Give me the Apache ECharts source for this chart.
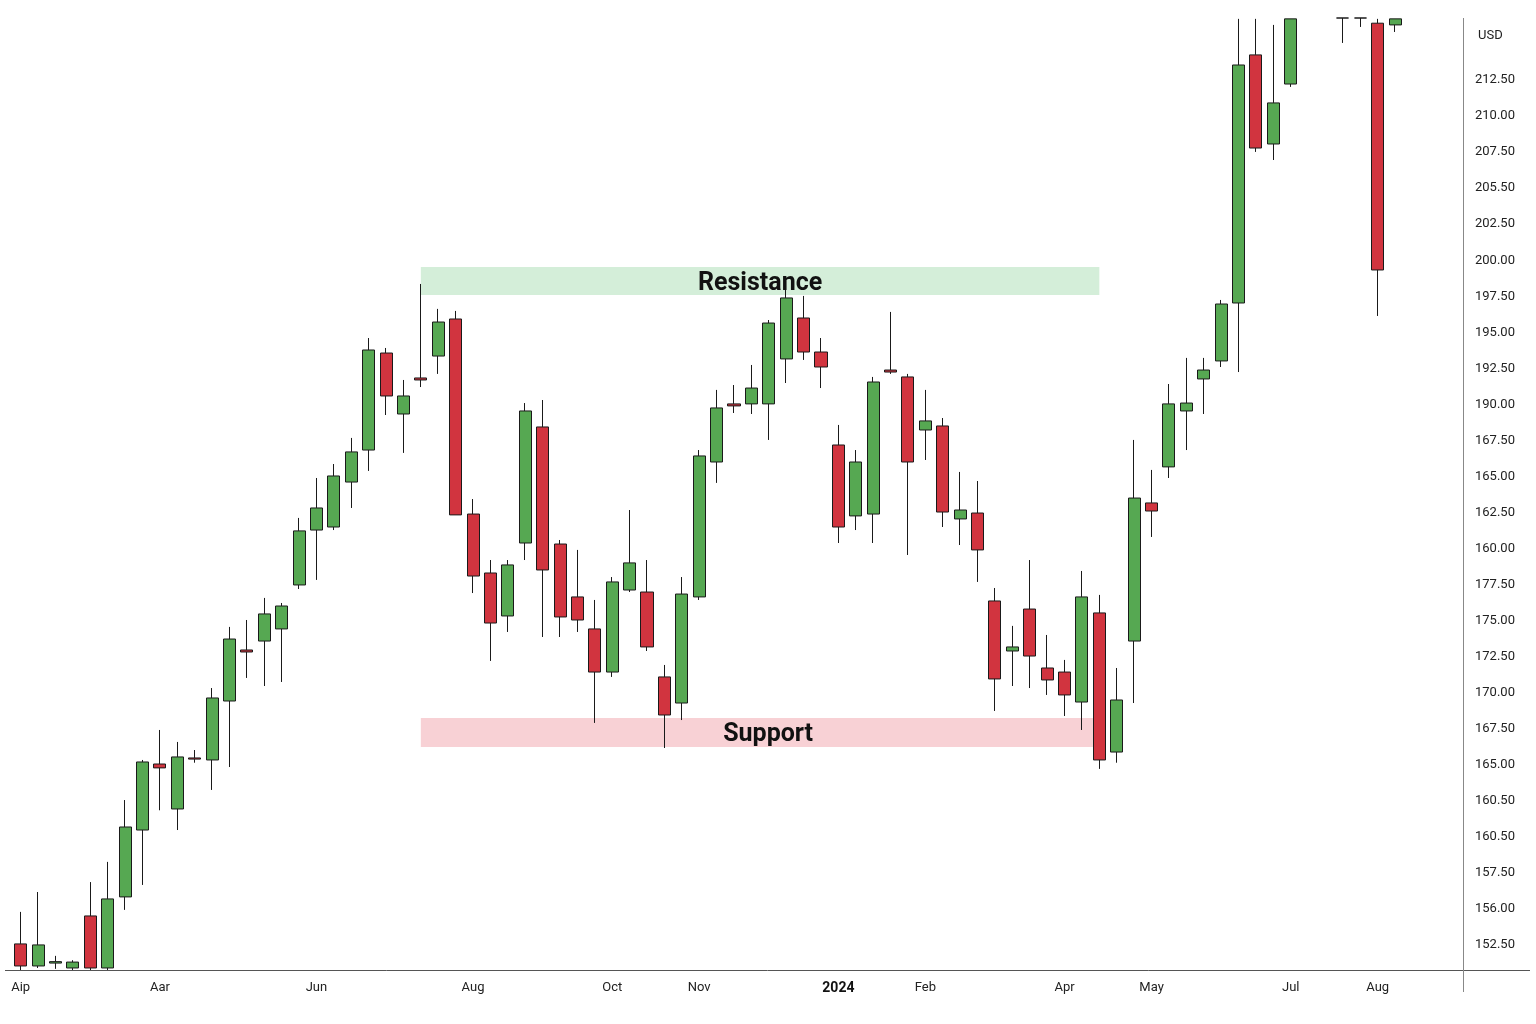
<!DOCTYPE html>
<html><head><meta charset="utf-8">
<script src="https://cdn.jsdelivr.net/npm/echarts@6/dist/echarts.min.js"></script>
<style>html,body{margin:0;background:#fff}#c{width:1536px;height:1024px}</style>
</head><body><div id="c"></div>
<script>
// x labels, one per candle slot ('' where none)
var xNames = ['Aip','','','','','','','','Aar','','','','','','','','','Jun','','','','','','','','','Aug','','','','','','','','Oct','','','','','Nov','','','','','','','','2024','','','','','Feb','','','','','','','','Apr','','','','','May','','','','','','','','Jul','','','','','Aug','','','',''];
// open, close, low, high (tops cut at the chart edge, 216.6; '-' = fully off chart)
var ohlc = [
[152.43,150.9,150.62,154.65],[150.9,152.36,150.76,156.03],[151.1,151.2,150.7,151.6],[150.76,151.17,150.62,151.3],
[154.37,150.76,150.62,156.72],[150.76,155.55,150.62,158.12],[155.69,160.54,154.79,162.41],[160.33,165.05,156.52,165.19],
[164.91,164.64,161.7,167.27],[161.79,165.4,160.33,166.44],[165.33,165.25,165.0,165.88],[165.19,169.49,163.11,170.18],
[169.28,173.58,164.7,174.42],[172.82,172.68,170.88,174.9],[173.44,175.32,170.32,176.43],[174.28,175.87,170.6,176.08],
[177.33,181.08,177.05,181.98],[181.14,182.67,177.68,184.75],[181.35,184.89,181.14,185.72],[184.47,186.56,182.67,187.53],
[186.69,193.63,185.24,194.46],[193.42,190.44,189.12,193.77],[189.19,190.44,186.49,191.55],[191.69,191.55,191.06,198.21],
[193.21,195.57,191.97,196.48],[195.78,182.19,182.19,196.34],[182.25,177.95,176.77,183.29],[178.16,174.69,172.06,179.06],
[175.18,178.72,174.07,179.06],[180.24,189.4,179.06,189.95],[188.29,178.37,173.72,190.16],[180.17,175.11,173.72,180.45],
[176.5,174.9,174.07,179.76],[174.28,171.29,167.76,176.29],[171.29,177.54,170.95,177.88],[176.98,178.86,176.84,182.53],
[176.84,173.03,172.75,179.06],[170.95,168.31,166.02,171.78],[169.14,176.7,167.96,177.88],[176.5,186.28,176.29,186.69],
[185.86,189.61,184.41,190.86],[189.89,189.75,189.26,191.2],[189.89,190.99,189.19,192.59],[189.89,195.5,187.39,195.71],
[193.01,197.24,191.34,197.79],[195.85,193.49,192.94,197.38],[193.49,192.45,190.99,194.46],[187.04,181.35,180.24,188.43],
[182.12,185.86,181.14,186.69],[182.25,191.41,180.24,191.76],[192.24,192.1,191.97,196.27],[191.76,185.86,179.41,191.97],
[188.08,188.71,186.0,190.86],[188.36,182.39,181.35,188.91],[181.91,182.53,180.1,185.17],[182.32,179.76,177.54,184.54],
[176.22,170.81,168.59,177.12],[172.75,173.03,170.32,174.49],[175.66,172.4,170.18,179.06],[171.57,170.74,169.7,173.86],
[171.29,169.7,168.24,172.13],[169.21,176.5,167.27,178.3],[175.39,165.19,164.57,176.64],[165.74,169.35,165.0,171.57],
[173.44,183.36,169.14,187.39],[183.02,182.46,180.66,185.31],[185.52,189.89,184.75,191.27],[189.4,189.95,186.69,193.08],
[191.62,192.24,189.19,193.08],[192.87,196.82,192.45,197.1],[196.89,213.4,192.1,216.6],[214.1,207.64,207.37,216.6],
[207.92,210.77,206.81,216.18],[212.08,216.6,211.88,216.6],['-','-','-','-'],['-','-','-','-'],
[216.66,216.66,214.93,216.66],[216.66,216.66,216.04,216.66],[216.3,199.18,195.99,216.6],[216.18,216.6,215.69,216.6]
];
// right-axis labels from top (212.50 tick) to bottom (152.50 tick), as printed
var yLabels = ['212.50','210.00','207.50','205.50','202.50','200.00','197.50','195.00','192.50','190.00','167.50','165.00','162.50','160.00','177.50','175.00','172.50','170.00','167.50','165.00','160.50','160.50','157.50','156.00','152.50'];
var resistance = [23, 62, 197.45, 199.39];
var support = [23, 62, 166.09, 168.1];

var chart = echarts.init(document.getElementById('c'));
chart.setOption({
  animation: false,
  backgroundColor: '#fff',
  grid: [
    {left: 12, right: 80, top: 18, bottom: 54},
    {left: 12, right: 73, top: 8, bottom: 43}
  ],
  xAxis: [
    {type: 'category', gridIndex: 0, data: xNames, boundaryGap: true,
     axisLine: {show: false}, axisTick: {show: false}, splitLine: {show: false},
     axisLabel: {interval: 0, margin: 11, color: '#222', fontSize: 13, fontFamily: 'Roboto',
       formatter: function(v){ return v === '2024' ? '{b|2024}' : v; },
       rich: {b: {fontWeight: 'bold', fontSize: 14, color: '#111', fontFamily: 'Roboto'}}}},
    {type: 'category', gridIndex: 1, data: ['a'], show: false}
  ],
  yAxis: [
    {type: 'value', gridIndex: 0, min: 150.62, max: 216.66, show: false},
    {type: 'value', gridIndex: 1, min: 150, max: 217.5, interval: 2.5, position: 'right',
     axisLine: {show: false}, axisTick: {show: false}, splitLine: {show: false},
     axisLabel: {margin: 12, color: '#222', fontSize: 13, fontFamily: 'Roboto',
       formatter: function(v){
         var i = Math.round((212.5 - v) / 2.5);
         return (i >= 0 && i < yLabels.length) ? yLabels[i] : '';
       }}}
  ],
  graphic: [
    {type: 'line', shape: {x1: 5, y1: 970.5, x2: 1530, y2: 970.5}, style: {stroke: '#555', lineWidth: 1}},
    {type: 'line', shape: {x1: 1463.5, y1: 18, x2: 1463.5, y2: 992}, style: {stroke: '#888', lineWidth: 1}},
    {type: 'text', left: 1478, top: 29, style: {text: 'USD', fill: '#222', font: '13px Roboto'}}
  ],
  series: [
    {type: 'candlestick', xAxisIndex: 0, yAxisIndex: 0, data: ohlc, barWidth: '72%', clip: true,
     itemStyle: {color: '#56a852', color0: '#d1343f', borderColor: '#1a1a1a', borderColor0: '#1a1a1a', borderWidth: 1},
     markArea: {silent: true, data: [
       [{coord: [resistance[0], resistance[3]], itemStyle: {color: '#d4eed9'},
         label: {show: true, position: 'inside', formatter: 'Resistance', color: '#111', fontSize: 25, fontWeight: 'bold', fontFamily: 'Roboto', offset: [0, 3]}},
        {coord: [resistance[1], resistance[2]]}],
       [{coord: [support[0], support[3]], itemStyle: {color: '#f8d1d5'},
         label: {show: true, position: 'inside', formatter: 'Support', color: '#111', fontSize: 25, fontWeight: 'bold', fontFamily: 'Roboto', offset: [8, 2]}},
        {coord: [support[1], support[2]]}]
     ]}},
    {type: 'line', xAxisIndex: 1, yAxisIndex: 1, data: [], silent: true}
  ]
});
</script></body></html>
